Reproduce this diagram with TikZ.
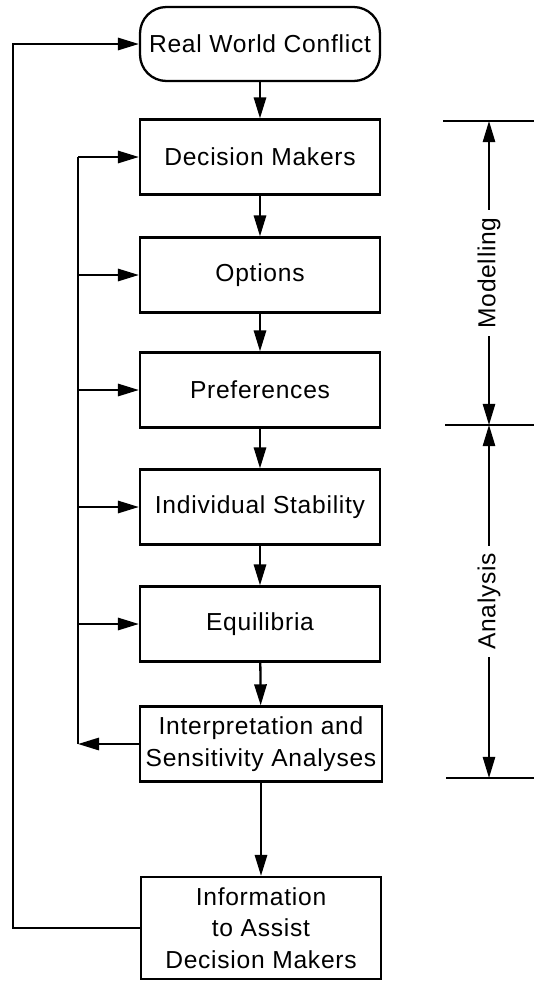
\documentclass[tikz,border=0pt]{standalone}
\usepackage{fontspec}
\setmainfont[LetterSpace=3]{Liberation Sans}
\usetikzlibrary{arrows.meta,positioning}
\tikzset{stage/.style={draw,line width=1.3pt,minimum width=4.8cm,minimum height=1.5cm,align=center,font=\fontsize{14}{18}\selectfont}}
\tikzset{flow/.style={line width=1.3pt,-{Triangle[length=12pt,width=7pt]}}}
\tikzset{span/.style={line width=1pt,{Triangle[length=12pt,width=7pt]}-{Triangle[length=12pt,width=7pt]}}}

\begin{document}
\begin{tikzpicture}[x=0.02cm, y=-0.02cm]
	\useasboundingbox (0,0) rectangle (534,981);
	
	\node[stage,rounded corners=15pt,minimum height=1.48cm] (rwc) at (260,44) {Real World Conflict};
	\node[stage] (dm) at (260,157) {Decision Makers};
	\node[stage] (opt) at (260,275) {Options};
	\node[stage] (pref) at (260,390) {Preferences};
	\node[stage] (istab) at (260,507) {Individual Stability};
	\node[stage] (equi) at (260,624) {Equilibria};
	\node[stage] (interp) at (261,744) {Interpretation and\\Sensitivity Analyses};
	\node[stage,minimum height=2.04cm] (info) at (261,928) {Information\\to Assist\\Decision Makers};
	
	\draw[flow] (rwc) -- (dm);
	\draw[flow] (dm) -- (opt);
	\draw[flow] (opt) -- (pref);
	\draw[flow] (pref) -- (istab);
	\draw[flow] (istab) -- (equi);
	\draw[flow] (equi) -- (interp);
	\draw[flow] (interp) -- (info);
	
	% feedback loops
	\coordinate (fb) at (78,744);
	\draw[flow] (interp.west) -- (fb);
	\draw[line width=1.3pt] (fb) -- (fb |- dm.west);
	\draw[flow] (fb |- dm.west) -- (dm.west);
	\foreach \n in {opt,pref,istab,equi} {
		\draw[flow] (fb |- \n.west) -- (\n.west);
	};
	\draw[flow] (info.west) -- (13,928) -- (13,44) -- (rwc.west);
	
	% phases on the right
	\coordinate (m1) at (489,121);
	\coordinate (m2) at (489,425);
	\coordinate (m3) at (489,778);
	\draw[line width=1.3pt] (443,121) -- (534,121);
	\draw[line width=1.3pt] (445,425) -- (534,425);
	\draw[line width=1.3pt] (446,778) -- (534,778);
	\draw[span] (m1) -- node[fill=white,rotate=90,inner sep=4pt,font=\fontsize{14}{18}\selectfont] (mod) {Modelling} (m2);
	\draw[span] (m2) -- node[fill=white,rotate=90,inner sep=4pt,font=\fontsize{14}{18}\selectfont] (ana) {Analysis} (m3);
	
\end{tikzpicture}
\end{document}
